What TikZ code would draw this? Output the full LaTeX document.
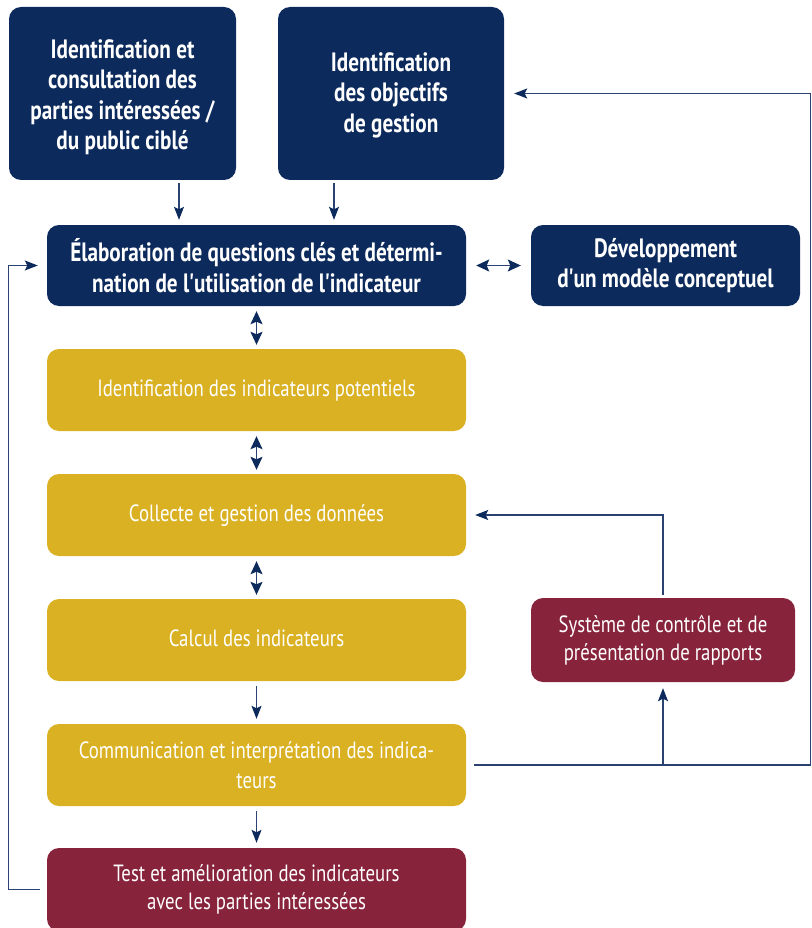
\documentclass[tikz,border=0pt]{standalone}
\usepackage{fontspec}
\setmainfont{PT Sans}[FakeStretch=0.8]
\usetikzlibrary{arrows.meta}
\definecolor{navy}{HTML}{0C2A5C}
\definecolor{wire}{HTML}{2A4272}
\definecolor{gold}{HTML}{DAB122}
\definecolor{maroon}{HTML}{87233B}
\newcommand{\apos}{\kern-0.5pt\textquotesingle\kern-1.5pt}
\tikzset{
  box/.style={rounded corners=12pt, text=white, align=center, inner sep=0pt},
  navybox/.style={box, fill=navy, font=\bfseries\fontsize{26.5}{30.5}\selectfont},
  goldbox/.style={box, fill=gold, font=\fontsize{23.5}{30}\selectfont,
    minimum width=419pt, minimum height=82pt},
  redbox/.style={box, fill=maroon, font=\fontsize{23.5}{28.5}\selectfont},
  arr/.style={draw=wire, line width=1.1pt,
    -{Stealth[length=13pt, width=10pt, inset=2.5pt, color=navy]}},
  darr/.style={draw=wire, line width=1.1pt,
    {Stealth[length=13pt, width=12pt, inset=2.5pt, color=navy]}-{Stealth[length=13pt, width=12pt, inset=2.5pt, color=navy]}},
}
\begin{document}
\begin{tikzpicture}[x=1pt, y=-1pt]
\useasboundingbox (0,0) rectangle (811,928);

% top row: stakeholders and objectives
\node[navybox, minimum width=227pt, minimum height=173pt] (A) at (122.5,93.5)
  {\rule{0pt}{26pt}Identification et\\consultation des\\parties intéressées /\\du public ciblé};
\node[navybox, minimum width=226pt, minimum height=173pt] (B) at (391,93.5)
  {\rule{0pt}{26pt}Identification\\des objectifs\\de gestion\strut};

% key questions and conceptual model
\node[navybox, minimum width=419pt, minimum height=81pt] (C) at (256.5,265.5)
  {Élaboration de questions clés et détermi-\\nation de l\apos utilisation de l\apos indicateur};
\node[navybox, minimum width=269pt, minimum height=81pt] (D) at (665.5,265.5)
  {Développement\\d\apos un modèle conceptuel};

% indicator chain
\node[goldbox] (Y1) at (256.5,390) {\strut Identification des indicateurs potentiels};
\node[goldbox] (Y2) at (256.5,515) {\strut Collecte et gestion des données};
\node[goldbox] (Y3) at (256.5,640) {\strut Calcul des indicateurs};
\node[goldbox] (Y4) at (256.5,765) {Communication et interprétation des indica-\\teurs};

\node[redbox, minimum width=419pt, minimum height=83pt] (T) at (256.5,889.5)
  {Test et amélioration des indicateurs\\avec les parties intéressées};
\node[redbox, minimum width=264pt, minimum height=84pt] (S) at (663,640)
  {Système de contrôle et de\\présentation de rapports};

% straight links
\draw[arr, shorten <=3pt, shorten >=5pt] ([xshift=56.5pt]A.south) -- ([xshift=-77.5pt]C.north);
\draw[arr, shorten <=3pt, shorten >=5pt] ([xshift=-57pt]B.south) -- ([xshift=77.5pt]C.north);
\draw[darr, shorten <=10pt, shorten >=10pt] (C.east) -- (D.west);
\draw[darr, shorten <=5pt, shorten >=4pt] (C.south) -- (Y1.north);
\draw[darr, shorten <=5pt, shorten >=4pt] (Y1.south) -- (Y2.north);
\draw[darr, shorten <=5pt, shorten >=4pt] (Y2.south) -- (Y3.north);
\draw[arr, shorten <=5pt, shorten >=5pt] (Y3.south) -- (Y4.north);
\draw[arr, shorten <=5pt, shorten >=5pt] (Y4.south) -- (T.north);

% feedback loops
\draw[arr, shorten <=7pt, shorten >=9pt] (T.west) -- ++(-38,0) |- (C.west);
\draw[arr, shorten <=8pt, shorten >=10pt] (Y4.east) -- ++(344,0) |- (B.east);
\draw[arr, shorten >=6pt] (Y4.east -| S.south) -- (S.south);
\draw[arr, shorten <=3pt, shorten >=9pt] (S.north) |- (Y2.east);
\end{tikzpicture}
\end{document}
